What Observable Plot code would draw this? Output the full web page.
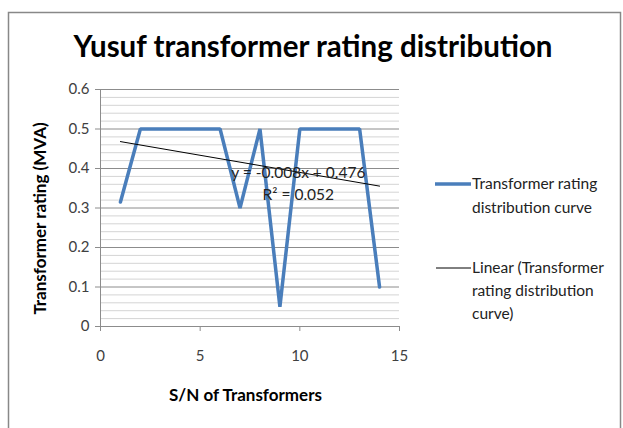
<!DOCTYPE html>
<html><head><meta charset="utf-8">
<script src="https://cdn.jsdelivr.net/npm/d3@7"></script>
<script src="https://cdn.jsdelivr.net/npm/@observablehq/plot@0.6"></script>
<style>
body{margin:0;background:#fff;}
#wrap{position:relative;width:623px;height:428px;overflow:hidden;}
</style>
</head><body><div id="wrap"></div>
<script>
const serial = [1,2,3,4,5,6,7,8,9,10,11,12,13,14];
const rating = [0.315,0.5,0.5,0.5,0.5,0.5,0.3,0.5,0.05,0.5,0.5,0.5,0.5,0.1];
const xTicks = [0,5,10,15];
const yTicks = [0,0.1,0.2,0.3,0.4,0.5,0.6];
const title = "Yusuf transformer rating distribution";
const xLabel = "S/N of Transformers";
const yLabel = "Transformer rating (MVA)";
const eqText = ["y = -0.008x + 0.476","R² = 0.052"];
const legendSeries = ["Transformer rating","distribution curve"];
const legendTrend = ["Linear (Transformer","rating distribution","curve)"];

const data = serial.map((s,i)=>({x:s,y:rating[i]}));
const minor = d3.range(0,0.6001,0.02).filter(v=>Math.abs(v*10-Math.round(v*10))>1e-6);
const font = "Lato, 'Open Sans', sans-serif";

const plot = Plot.plot({
  width:623, height:428,
  marginLeft:100, marginRight:224, marginTop:89, marginBottom:102,
  style:{fontFamily:font, fontSize:"15px", color:"#404040", background:"transparent"},
  x:{domain:[0,15], label:null},
  y:{domain:[0,0.6], label:null},
  marks:[
    Plot.ruleY(minor,{stroke:"#d4d4d4",strokeWidth:1}),
    Plot.ruleY(yTicks.slice(1),{stroke:"#8c8c8c",strokeWidth:1}),
    Plot.ruleY([0],{stroke:"#8c8c8c"}),
    Plot.ruleX([0],{stroke:"#8c8c8c"}),
    Plot.axisX({ticks:xTicks, tickSize:5, tickPadding:19, stroke:"#8c8c8c", label:null, tickFormat:d3.format("d")}),
    Plot.axisY({ticks:yTicks, tickSize:5, tickPadding:6, stroke:"#8c8c8c", label:null, tickFormat:d=>d===0?"0":d3.format(".1f")(d)}),
    Plot.line(data,{x:"x",y:"y",stroke:"#4a7ebb",strokeWidth:3.5,strokeLinejoin:"miter"}),
    Plot.linearRegressionY(data,{x:"x",y:"y",stroke:"#000",strokeWidth:1,ci:0})
  ]
});
document.getElementById("wrap").appendChild(plot);

const svg = d3.select(plot);
const xs = plot.scale("x"), ys = plot.scale("y");
// frame
svg.insert("rect",":first-child").attr("x",8.5).attr("y",12.5).attr("width",612).attr("height",430)
  .attr("fill","none").attr("stroke","#888").attr("stroke-width",1.5);
// title
svg.append("text").attr("x",313).attr("y",57).attr("text-anchor","middle")
  .attr("font-family",font).attr("font-weight","bold").attr("font-size",29.5).attr("fill","#000").text(title);
// axis titles
svg.append("text").attr("x",xs.apply(7.3)).attr("y",401).attr("text-anchor","middle")
  .attr("font-family",font).attr("font-weight","bold").attr("font-size",17).attr("fill","#000").text(xLabel);
svg.append("text").attr("transform",`translate(46,${ys.apply(0.3)+11}) rotate(-90)`).attr("text-anchor","middle")
  .attr("font-family",font).attr("font-weight","bold").attr("font-size",17).attr("fill","#000").text(yLabel);
// equation
eqText.forEach((t,i)=>{
  svg.append("text").attr("x",xs.apply(9.95)).attr("y",ys.apply(0.375)+i*22).attr("text-anchor","middle")
    .attr("font-family",font).attr("font-size",15.5).attr("fill","#222").text(t);
});
// legend
const lx = 435;
svg.append("line").attr("x1",lx).attr("x2",lx+36).attr("y1",184).attr("y2",184).attr("stroke","#4a7ebb").attr("stroke-width",3.5);
legendSeries.forEach((t,i)=>svg.append("text").attr("x",lx+37).attr("y",189+i*23.5).attr("text-anchor","start")
  .attr("font-family",font).attr("font-size",15.5).attr("fill","#222").text(t));
svg.append("line").attr("x1",lx+1).attr("x2",lx+36).attr("y1",268).attr("y2",268).attr("stroke","#000").attr("stroke-width",1);
legendTrend.forEach((t,i)=>svg.append("text").attr("x",lx+37).attr("y",273+i*23).attr("text-anchor","start")
  .attr("font-family",font).attr("font-size",15.5).attr("fill","#222").text(t));
</script>
</body></html>
